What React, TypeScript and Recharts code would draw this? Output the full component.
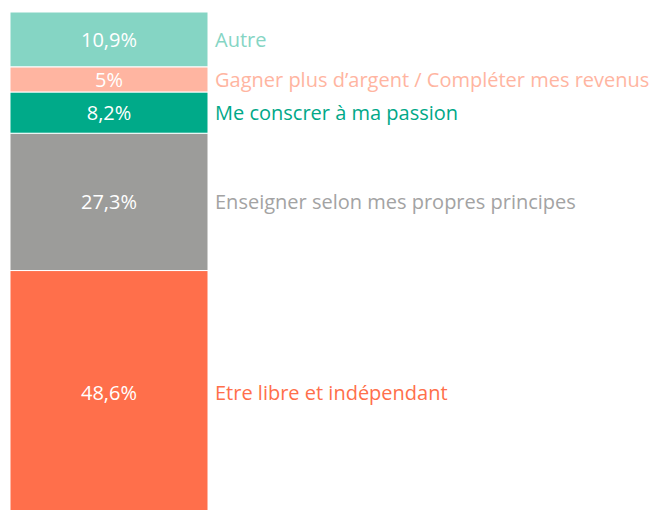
import React from 'react';
import { BarChart, Bar, XAxis, YAxis, LabelList } from 'recharts';

// stacking order: first entry sits at the bottom of the bar
const keys = ['libre', 'enseigner', 'passion', 'argent', 'autre'];
const labels = [
  'Etre libre et indépendant',
  'Enseigner selon mes propres principes',
  'Me conscrer à ma passion',
  'Gagner plus d’argent / Compléter mes revenus',
  'Autre',
];
const values = [48.6, 27.3, 8.2, 5, 10.9];
const COLORS = ['#FF6F4B', '#9C9C9A', '#00AA89', '#FFB5A1', '#85D5C4'];
const TEXT_COLORS = ['#FF6F4B', '#A3A3A3', '#00A888', '#FFB5A1', '#85D5C4'];

const row: Record<string, number | string> = { name: 'total' };
keys.forEach((k, i) => {
  row[k] = values[i];
});
const data = [row];

const FONT = '"Open Sans", sans-serif';

const fmt = (v: number) => String(v).replace('.', ',') + '%';

const sideLabel = (i: number) => (props: any) => {
  const { x, y, width, height } = props;
  return (
    <text
      x={Number(x) + Number(width) + 7}
      y={Number(y) + Number(height) / 2}
      dominantBaseline="central"
      fill={TEXT_COLORS[i]}
      fontSize={20}
      fontFamily={FONT}
    >
      {labels[i]}
    </text>
  );
};

export default function App() {
  return (
    <BarChart
      width={650}
      height={512}
      data={data}
      margin={{ top: 4, right: 450, bottom: 5, left: 2 }}
      barCategoryGap={0}
    >
      <XAxis dataKey="name" hide />
      <YAxis hide domain={[0, 100]} />
      {keys.map((k, i) => (
        <Bar
          key={k}
          dataKey={k}
          stackId="a"
          fill={COLORS[i]}
          stroke="#ffffff"
          strokeWidth={1}
          isAnimationActive={false}
        >
          <LabelList
            dataKey={k}
            position="center"
            formatter={(v: any) => fmt(Number(v))}
            fill="#ffffff"
            fontSize={20}
            fontFamily={FONT}
          />
          <LabelList dataKey={k} content={sideLabel(i)} />
        </Bar>
      ))}
    </BarChart>
  );
}
